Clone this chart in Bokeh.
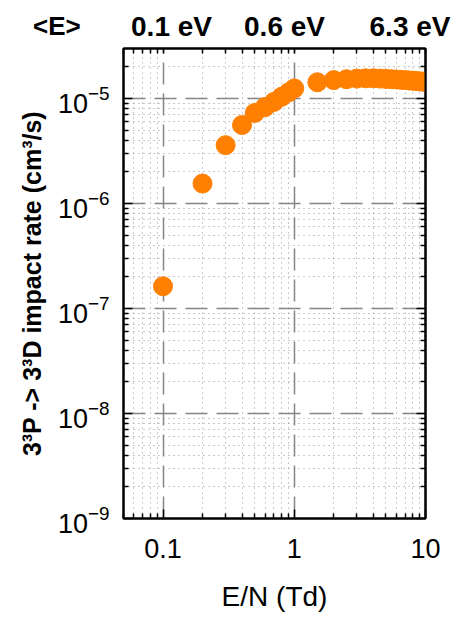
from bokeh.plotting import figure
from bokeh.models import FixedTicker, LogAxis, ColumnDataSource
from bokeh.core.properties import value
from bokeh.embed import file_html
from bokeh.resources import INLINE

# Data
en_td = [0.1, 0.2, 0.3, 0.4, 0.5, 0.6, 0.7, 0.8, 0.9, 1.0, 1.5,
         2.0, 2.5, 3.0, 3.5, 4.0, 4.5, 5.0, 5.5, 6.0, 6.5, 7.0, 7.5,
         8.0, 8.5, 9.0, 9.5, 10.0]
rate = [1.63e-7, 1.55e-6, 3.6e-6, 5.6e-6, 7.3e-6, 8.3e-6, 9.3e-6, 1.04e-5,
        1.14e-5, 1.25e-5, 1.43e-5,
        1.50e-5, 1.53e-5, 1.55e-5, 1.56e-5, 1.56e-5, 1.55e-5, 1.54e-5,
        1.53e-5, 1.52e-5, 1.51e-5, 1.50e-5, 1.49e-5, 1.48e-5, 1.47e-5,
        1.46e-5, 1.45e-5, 1.44e-5]

x_major = [0.1, 1.0, 10.0]
x_major_labels = ["0.1", "1", "10"]
x_minor = [0.05, 0.06, 0.07, 0.08, 0.09, 0.2, 0.3, 0.4, 0.5, 0.6, 0.7, 0.8, 0.9,
           2, 3, 4, 5, 6, 7, 8, 9]
y_major = [1e-9, 1e-8, 1e-7, 1e-6, 1e-5]
y_minor = [m * 10.0 ** e for e in range(-9, -4) for m in range(2, 10)]
y_minor = [v for v in y_minor if v <= 3e-5]

# top-axis mean-energy labels (placed where they sit in the reference)
top_positions = [0.1161, 0.843, 7.62]
top_labels = ["0.1 eV", "0.6 eV", "6.3 eV"]
top_title = ["<E>"]

FONT = "Liberation Sans"
ORANGE = "#FF8000"

p = figure(width=453, height=620, x_axis_type="log", y_axis_type="log",
           x_range=(0.05, 10.0), y_range=(1e-9, 3e-5),
           output_backend="svg", toolbar_location=None,
           min_border_left=123, min_border_right=28,
           min_border_top=48, min_border_bottom=102)
p.background_fill_color = "white"
p.border_fill_color = "white"
p.outline_line_color = "black"
p.outline_line_width = 2

xt = FixedTicker(ticks=x_major, minor_ticks=x_minor)
yt = FixedTicker(ticks=y_major, minor_ticks=y_minor)

def style_axis(ax, show_labels):
    ax.axis_line_color = "black"
    ax.axis_line_width = 2
    ax.major_tick_in = 9
    ax.major_tick_out = 0
    ax.minor_tick_in = 5
    ax.minor_tick_out = 0
    ax.major_tick_line_color = "black"
    ax.major_tick_line_width = 1.5
    ax.minor_tick_line_color = "black"
    ax.minor_tick_line_width = 1.5
    ax.major_label_text_color = "black"
    ax.axis_label_text_color = "black"
    if not show_labels:
        ax.major_label_text_color = None
        ax.major_label_text_font_size = "1px"

xa = p.xaxis[0]
xa.ticker = xt
xa.major_label_overrides = {v: s for v, s in zip(x_major, x_major_labels)}
style_axis(xa, True)
xa.major_label_text_font = FONT
xa.major_label_text_font_size = "27px"
xa.major_label_standoff = 20
xa.axis_label = "E/N (Td)"
xa.axis_label_text_font = FONT
xa.axis_label_text_font_size = "28px"
xa.axis_label_text_font_style = "normal"
xa.axis_label_standoff = 20

ya = p.yaxis[0]
ya.ticker = yt
style_axis(ya, True)
ya.major_label_text_font = FONT
ya.major_label_text_font_size = "27px"
ya.major_label_standoff = 14
ya.axis_label = "3³P -> 3³D impact rate (cm³/s)"
ya.axis_label_text_font = FONT
ya.axis_label_text_font_size = "25px"
ya.axis_label_text_font_style = "bold"
ya.axis_label_standoff = 9

# top axis: inward ticks at every x tick, labels = mean energies
top = LogAxis(ticker=FixedTicker(ticks=top_positions, minor_ticks=x_minor + x_major))
style_axis(top, True)
top.major_tick_line_color = None
top.major_label_overrides = {v: s for v, s in zip(top_positions, top_labels)}
top.major_label_text_font = FONT
top.major_label_text_font_size = "28px"
top.major_label_text_font_style = "bold"
top.major_label_standoff = 7
p.add_layout(top, "above")

right = LogAxis(ticker=yt)
style_axis(right, False)
p.add_layout(right, "right")

for g, t in ((p.xgrid[0], xt), (p.ygrid[0], yt)):
    g.ticker = t
    g.grid_line_color = "#858585"
    g.grid_line_width = 1.5
    g.grid_line_dash = "22 9"
    g.minor_grid_line_color = "#959595"
    g.minor_grid_line_width = 1
    g.minor_grid_line_dash = "1 4"

src = ColumnDataSource(data=dict(x=en_td, y=rate))
p.scatter("x", "y", source=src, size=19, fill_color=ORANGE, line_color=ORANGE)

# "<E>" header, drawn as an unclipped overlay text glyph left of the frame
hdr = ColumnDataSource(data=dict(x=[0.1], y=[3e-5], t=top_title))
p.text("x", "y", text="t", source=hdr, level="overlay",
       x_offset=-130, y_offset=-23,
       text_align="left", text_baseline="middle",
       text_font=value(FONT), text_font_size="26px",
       text_font_style="bold", text_color="black")

open("out.html", "w").write(file_html(p, INLINE))
